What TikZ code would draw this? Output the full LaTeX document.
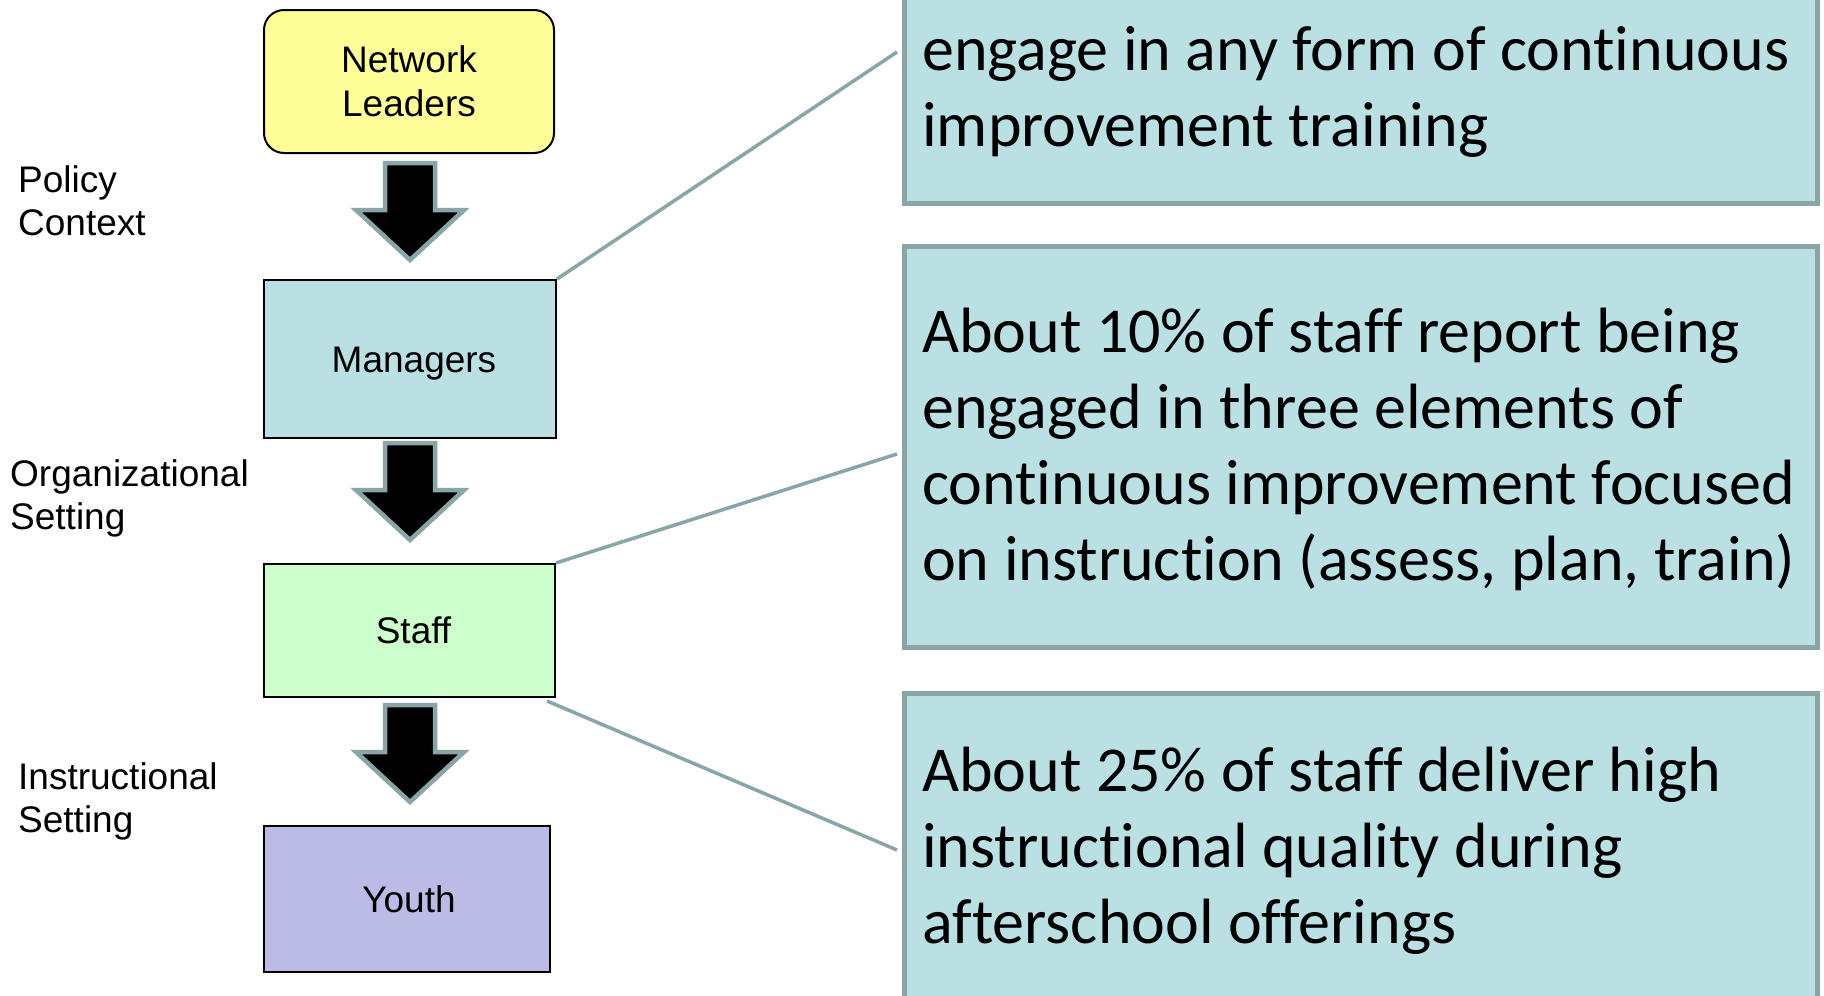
\documentclass[tikz,border=0pt]{standalone}
\usepackage{fontspec}
\setmainfont{Liberation Sans}
\newfontfamily\calib[Ligatures=NoCommon]{Carlito}
\definecolor{yelfill}{HTML}{FFFF99}
\definecolor{tealfill}{HTML}{BAE0E3}
\definecolor{grnfill}{HTML}{CCFFCC}
\definecolor{purfill}{HTML}{BBBBE6}
\definecolor{grayline}{HTML}{89A5A8}
\tikzset{
  lbox/.style={draw=black, line width=2pt, anchor=north west, inner sep=0pt,
    font=\fontsize{37}{44}\selectfont, align=center},
  infobox/.style={draw=grayline, line width=4.5pt, fill=tealfill, anchor=north west, inner sep=0pt},
  infotext/.style={anchor=north west, inner sep=0pt, align=left,
    font=\calib\fontsize{64}{76}\selectfont},
  sidelabel/.style={anchor=north west, inner sep=0pt, align=left,
    font=\fontsize{37}{43}\selectfont},
  conn/.style={draw=grayline, line width=3.5pt},
  blockdown/.pic={\draw[draw=grayline, fill=black, line width=4.5pt, miter limit=10]
    (-25,0) -- (25,0) -- (25,47) -- (54,47) -- (0,97) -- (-54,47) -- (-25,47) -- cycle;}
}
\begin{document}
\begin{tikzpicture}[x=1pt,y=-1pt]
\useasboundingbox (0,0) rectangle (1824,996);
\clip (0,0) rectangle (1824,996);
\fill[white] (0,0) rectangle (1824,996);

% left column boxes
\node[lbox, fill=yelfill, rounded corners=20pt, minimum width=290pt, minimum height=143pt] (nl) at (263,9) {Network\\Leaders};
\node[lbox, fill=tealfill, minimum width=292pt, minimum height=158pt] (man) at (263,279) {\raisebox{-5pt}[\height][\depth]{\hspace*{8pt}Managers}};
\node[lbox, fill=grnfill, minimum width=291pt, minimum height=133pt] (staff) at (263,563) {\hspace*{8pt}Staff};
\node[lbox, fill=purfill, minimum width=286pt, minimum height=146pt] (youth) at (263,825) {\hspace*{4pt}Youth};

% block arrows
\pic at (410,163) {blockdown};
\pic at (410,443) {blockdown};
\pic at (410,705) {blockdown};

% side labels
\node[sidelabel] (pc) at (18,162) {\strut Policy\\Context};
\node[sidelabel] (os) at (10,456) {\strut Organizational\\Setting};
\node[sidelabel] (is) at (18,759) {\strut Instructional\\Setting};

% right info boxes
\node[infobox, minimum width=913pt, minimum height=241pt] (b1) at (902,-40) {};
\node[infobox, minimum width=913pt, minimum height=401pt] (b2) at (902,244) {};
\node[infobox, minimum width=913pt, minimum height=349pt] (b3) at (902,691) {};

\node[infotext] (t1) at (922,17) {\strut engage in any form of continuous\\improvement training};
\node[infotext] (t2) at (922,299) {\strut About 10\% of staff report being\\engaged in three elements of\\continuous improvement focused\\on instruction (assess, plan, train)};
\node[infotext] (t3) at (922,738) {\strut About 25\% of staff deliver high\\instructional quality during\\afterschool offerings};

% connectors
\coordinate (e1) at (897,52);
\coordinate (e2) at (897,454);
\coordinate (s3) at ([xshift=-9pt,yshift=-3pt]staff.south east);
\coordinate (e3) at (897,850);
\draw[conn] (man.north east) -- (e1);
\draw[conn] (staff.north east) -- (e2);
\draw[conn] (s3) -- (e3);
\end{tikzpicture}
\end{document}
